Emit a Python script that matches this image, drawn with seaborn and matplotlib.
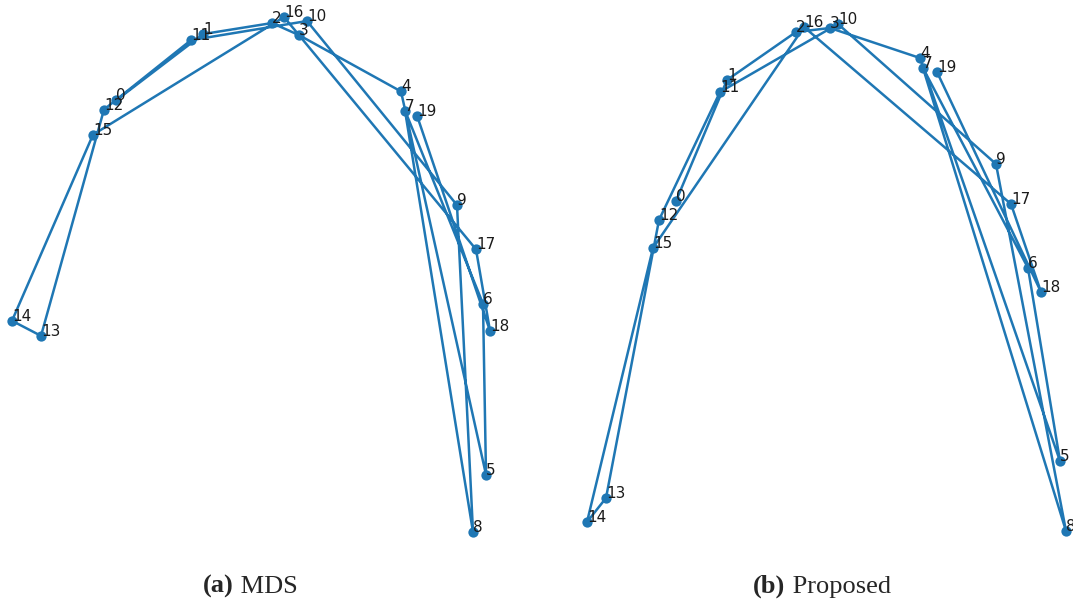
import matplotlib
matplotlib.use("Agg")
import matplotlib.pyplot as plt
import seaborn as sns
import numpy as np

sns.set_theme(style="white")
plt.rcParams["font.family"] = ["DejaVu Sans"]

# Node ids, visited in order 0..19 by the path
node_ids = list(range(20))

# 2-D embedding from classical MDS
mds_x = [-1.34, -0.47, 0.22, 0.49, 1.51, 2.36, 2.33, 1.55, 2.23, 2.07,
         0.57, -0.59, -1.46, -2.09, -2.38, -1.57, 0.34, 2.26, 2.40, 1.67]
mds_y = [1.97, 2.63, 2.74, 2.62, 2.06, -1.75, -0.05, 1.87, -2.32, 0.93,
         2.76, 2.57, 1.88, -0.37, -0.22, 1.63, 2.80, 0.49, -0.32, 1.82]

# 2-D embedding from the proposed method
prop_x = [-1.44, -0.93, -0.24, 0.10, 1.00, 2.40, 2.08, 1.03, 2.46, 1.76,
          0.18, -1.00, -1.61, -2.14, -2.33, -1.67, -0.16, 1.91, 2.21, 1.17]
prop_y = [0.99, 2.20, 2.68, 2.72, 2.42, -1.61, 0.32, 2.32, -2.31, 1.36,
          2.76, 2.08, 0.80, -1.98, -2.22, 0.52, 2.73, 0.96, 0.08, 2.28]

captions = [("(a)", "MDS"), ("(b)", "Proposed")]

W, H = 1073, 603
fig = plt.figure(figsize=(W / 100, H / 100), dpi=100)

BLUE = "#1f77b4"


def add_panel(xs, ys, box):
    """Axes whose data extent fills the pixel box (left, top, right, bottom)."""
    l, t, r, b = box
    ax = fig.add_axes([l / W, 1 - b / H, (r - l) / W, (b - t) / H])
    sns.lineplot(x=xs, y=ys, sort=False, estimator=None, ax=ax,
                 color=BLUE, linewidth=1.8)
    sns.scatterplot(x=xs, y=ys, ax=ax, color=BLUE, s=55, linewidth=0,
                    zorder=3)
    for i, (xv, yv) in enumerate(zip(xs, ys)):
        ax.text(xv, yv, str(node_ids[i]), fontsize=11, color="#1a1a1a",
                zorder=4)
    ax.set_xlim(min(xs), max(xs))
    ax.set_ylim(min(ys), max(ys))
    for art in ax.lines + ax.collections:
        art.set_clip_on(False)
    ax.set_axis_off()
    return ax


add_panel(mds_x, mds_y, (12, 17, 490, 532))
add_panel(prop_x, prop_y, (587, 24, 1066, 531))

# Sub-figure captions: bold tag followed by regular title
fig.canvas.draw()
renderer = fig.canvas.get_renderer()
cap_font = ["Liberation Serif", "DejaVu Serif"]
for (tag, title), cx in zip(captions, [250, 822]):
    t1 = fig.text(0, 0, tag, fontsize=19, fontweight="bold", family=cap_font)
    t2 = fig.text(0, 0, " " + title, fontsize=19, family=cap_font)
    w1 = t1.get_window_extent(renderer).width
    w2 = t2.get_window_extent(renderer).width
    x0 = cx - (w1 + w2) / 2
    yb = 1 - 593 / H
    t1.set_position((x0 / W, yb))
    t1.set_va("baseline")
    t2.set_position(((x0 + w1) / W, yb))
    t2.set_va("baseline")

fig.savefig("out.png", dpi=100)
